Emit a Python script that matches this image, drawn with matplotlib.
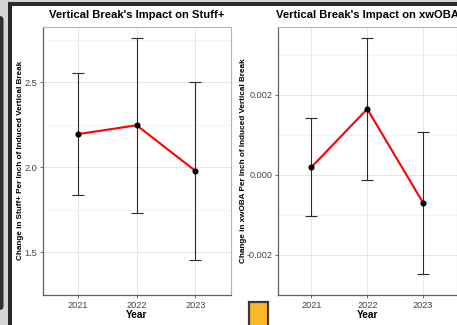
import numpy as np
import matplotlib
matplotlib.use('Agg')
import matplotlib.pyplot as plt
from matplotlib.patches import Rectangle, FancyBboxPatch

plt.rcParams['font.family'] = ['Liberation Sans', 'DejaVu Sans']

# data
years = [2021, 2022, 2023]
year_labels = ['2021', '2022', '2023']
stuff_est = [2.195, 2.247, 1.979]
stuff_err = [0.357, 0.514, 0.521]
xwoba_est = [0.000192, 0.001642, -0.000697]
xwoba_err = [0.001226, 0.001760, 0.001775]

W, H = 457, 325
fig = plt.figure(figsize=(W / 100, H / 100), dpi=100)
fig.patch.set_facecolor('white')

# screenshot frame drawn in pixel coords on a background axes
bg = fig.add_axes([0, 0, 1, 1])
bg.set_xlim(0, W)
bg.set_ylim(H, 0)
bg.axis('off')
bg.add_patch(Rectangle((0, 0), 9, H, color='#d4d4d4', lw=0))
bg.add_patch(Rectangle((0, 0), W, 2, color='#d4d4d4', lw=0))
bg.add_patch(FancyBboxPatch((-4, 16), 7.5, 294, boxstyle='round,pad=0,rounding_size=4',
                            color='#2e2e2c', lw=0))
bg.add_patch(Rectangle((8, 2), 4, H, color='#2b2b29', lw=0))
bg.add_patch(Rectangle((8, 2), W, 3.5, color='#2b2b29', lw=0))
bg.add_patch(Rectangle((249, 302), 19, 30, facecolor='#fbb829', edgecolor='#3a3a3a', lw=1.6))


def panel(x0, x1, est, err, ticks, ticklabels, title, ylabel, xlab_x):
    ax = fig.add_axes([x0 / W, (H - 295) / H, (x1 - x0) / W, (295 - 26.7) / H])
    ax.set_facecolor('white')
    xs = np.arange(1, len(years) + 1)
    ax.errorbar(xs, est, yerr=err, fmt='none', ecolor='#2a2a2a', elinewidth=0.8,
                capsize=4, capthick=0.8, zorder=3)
    ax.plot(xs, est, color='#ff0000', lw=1.5, zorder=4)
    ax.plot(xs, est, 'o', color='black', ms=3.4, zorder=5)
    lo = min(e - r for e, r in zip(est, err))
    hi = max(e + r for e, r in zip(est, err))
    pad = (hi - lo) * 0.05
    ax.set_ylim(lo - pad, hi + pad)
    ax.set_xlim(0.4, 3.6)
    ax.set_xticks(xs)
    ax.set_xticklabels(year_labels)
    ax.set_yticks(ticks)
    ax.set_yticklabels(ticklabels)
    step = ticks[1] - ticks[0]
    ax.set_yticks([t + step / 2 for t in [ticks[0] - step] + list(ticks)], minor=True)
    ax.grid(True, which='major', color='#e6e6e6', lw=0.7)
    ax.grid(True, which='minor', axis='y', color='#f1f1f1', lw=0.5)
    ax.set_axisbelow(True)
    ax.tick_params(axis='both', which='major', length=2.5, width=0.6, color='#555555',
                   labelsize=6.6, labelcolor='#444444', pad=1.5)
    ax.tick_params(which='minor', length=0)
    for s in ['left', 'bottom']:
        ax.spines[s].set_color('#606060')
        ax.spines[s].set_linewidth(0.9)
    for s in ['top', 'right']:
        ax.spines[s].set_color('#b5b5b5')
        ax.spines[s].set_linewidth(0.8)
    cx = (x0 + x1) / 2
    fig.text(cx / W, 1 - 15.3 / H, title, ha='center', va='center',
             fontsize=8.1, fontweight='bold')
    fig.text(xlab_x / W, 1 - 160.8 / H, ylabel, rotation=90, ha='center', va='center',
             fontsize=5.9, fontweight='bold')
    fig.text(cx / W, 1 - 314.5 / H, 'Year', ha='center', va='center',
             fontsize=7.3, fontweight='bold')
    return ax


panel(42.7, 230.7, stuff_est, stuff_err, [1.5, 2.0, 2.5], ['1.5', '2.0', '2.5'],
      "Vertical Break's Impact on Stuff+",
      'Change in Stuff+ Per Inch of Induced Vertical Break', 20.7)
panel(278, 456.5, xwoba_est, xwoba_err, [-0.002, 0.0, 0.002], ['-0.002', '0.000', '0.002'],
      "Vertical Break's Impact on xwOBA",
      'Change in xwOBA Per Inch of Induced Vertical Break', 243.7)

fig.savefig('out.png', dpi=100)
